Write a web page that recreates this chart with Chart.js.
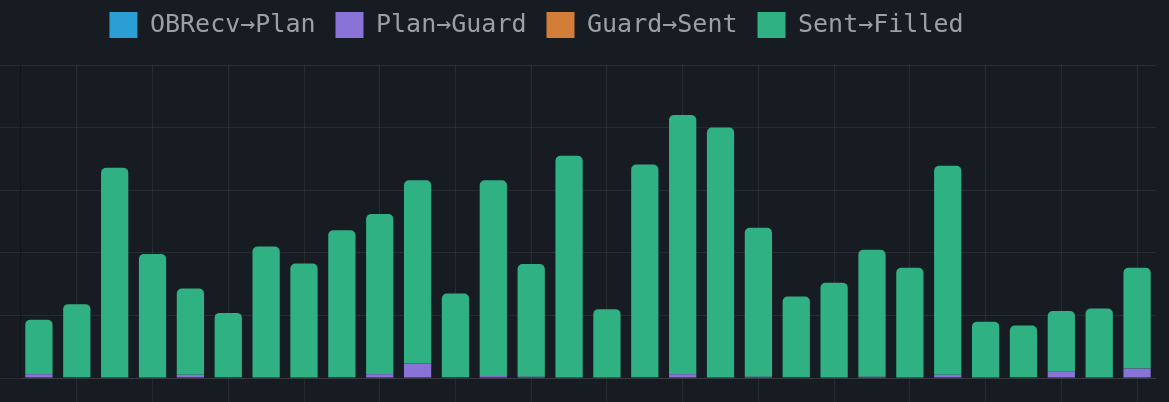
<!DOCTYPE html>
<html>
<head>
<meta charset="utf-8">
<script src="https://cdn.jsdelivr.net/npm/chart.js@4/dist/chart.umd.min.js"></script>
<style>
    html, body { margin: 0; padding: 0; background: #171b22; overflow: hidden; }
    body { width: 1169px; height: 402px; position: relative; }
    #wrap { position: absolute; left: -83px; top: -8px; width: 1239px; height: 426px; }
</style>
</head>
<body>
<div id="wrap"><canvas id="latencyChart"></canvas></div>
<script>
// Per-trade latency breakdown (stacked)

const tradeLabels = ['1', '2', '3', '4', '5', '6', '7', '8', '9', '10',
    '11', '12', '13', '14', '15', '16', '17', '18', '19', '20',
    '21', '22', '23', '24', '25', '26', '27', '28', '29', '30'];

const obrecvToPlan = [0, 0, 0, 0, 0, 0, 0, 0, 0, 0,
    0, 0, 0, 0, 0, 0, 0, 0, 0, 0,
    0, 0, 0, 0, 0, 0, 0, 0, 0, 0];

const planToGuard = [0.06, 0.01, 0, 0, 0.05, 0.01, 0, 0, 0.01, 0.06,
    0.23, 0.01, 0.03, 0.02, 0, 0, 0.01, 0.06, 0, 0.02,
    0.01, 0, 0.02, 0, 0.05, 0, 0.01, 0.1, 0, 0.15];

const guardToSent = [0, 0, 0, 0, 0, 0, 0, 0, 0, 0,
    0, 0, 0, 0, 0, 0, 0, 0, 0, 0,
    0, 0, 0, 0, 0, 0, 0, 0, 0, 0];

const sentToFilled = [0.87, 1.17, 3.36, 1.98, 1.38, 1.03, 2.10, 1.83, 2.35, 2.56,
    2.93, 1.34, 3.13, 1.80, 3.55, 1.10, 3.40, 4.14, 4.00, 2.38,
    1.29, 1.52, 2.03, 1.76, 3.34, 0.90, 0.83, 0.97, 1.11, 1.61];

const yTicks = { min: 0, max: 5, step: 1 };

const gridColor = 'rgba(255, 255, 255, 0.075)';
const textColor = '#9aa0a8';

// push the plot a little further below the legend
const legendGap = {
    id: 'legendGap',
    beforeInit(chart) {
        const origFit = chart.legend.fit;
        chart.legend.fit = function() {
            origFit.bind(chart.legend)();
            this.height += 17;
        };
    }
};

const ctx = document.getElementById('latencyChart');

new Chart(ctx, {
    type: 'bar',
    data: {
        labels: tradeLabels,
        datasets: [
            {
                label: 'OBRecv\u2192Plan',
                data: obrecvToPlan,
                backgroundColor: '#2b9ed3'
            },
            {
                label: 'Plan\u2192Guard',
                data: planToGuard,
                backgroundColor: '#8a73d6'
            },
            {
                label: 'Guard\u2192Sent',
                data: guardToSent,
                backgroundColor: '#d27e39'
            },
            {
                label: 'Sent\u2192Filled',
                data: sentToFilled,
                backgroundColor: '#2fb183',
                borderRadius: 5,
                borderSkipped: 'start'
            }
        ]
    },
    options: {
        responsive: true,
        maintainAspectRatio: false,
        animation: false,
        plugins: {
            legend: {
                display: true,
                position: 'top',
                labels: {
                    color: textColor,
                    boxWidth: 28,
                    boxHeight: 26,
                    padding: 20,
                    font: { family: 'DejaVu Sans Mono', size: 25 }
                }
            },
            tooltip: { enabled: false }
        },
        scales: {
            x: {
                stacked: true,
                grid: {
                    offset: false,
                    color: (c) => (c.index % 2 === 1 ? gridColor : 'transparent'),
                    tickLength: 30
                },
                border: { color: gridColor },
                ticks: { display: false },
                afterFit(scale) { scale.height = 40; }
            },
            y: {
                stacked: true,
                min: yTicks.min,
                max: yTicks.max,
                grid: { color: gridColor, tickLength: 20 },
                border: { color: 'rgba(0, 0, 0, 0.25)' },
                ticks: { display: false, stepSize: yTicks.step },
                afterFit(scale) { scale.width = 103; }
            }
        }
    },
    plugins: [legendGap]
});
</script>
</body>
</html>
